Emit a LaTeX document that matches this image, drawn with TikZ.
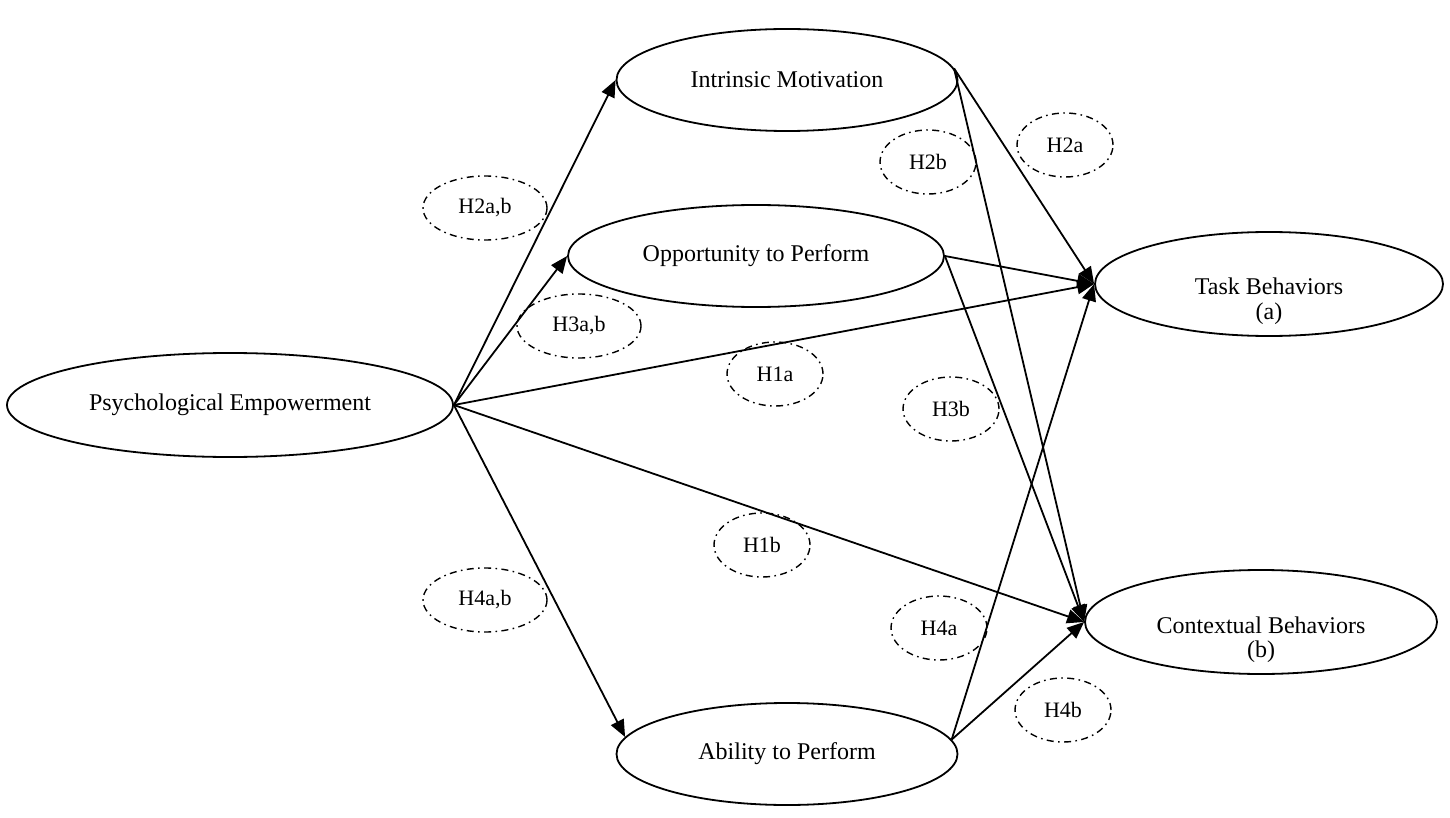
\documentclass[tikz,border=0pt]{standalone}
\usepackage{fontspec}
\setmainfont{Liberation Serif}
\usetikzlibrary{shapes.geometric,arrows.meta}

\begin{document}
\begin{tikzpicture}[x=0.5pt,y=-0.5pt,
  construct/.style={draw, ellipse, line width=0.9pt, inner sep=0pt,
    font=\fontsize{12}{13}\selectfont},
  hyp/.style={draw, ellipse, line width=0.7pt, inner sep=0pt,
    dash pattern=on 3.5pt off 2.2pt on 0.8pt off 2.2pt,
    minimum height=32pt, font=\fontsize{11}{12}\selectfont},
  link/.style={line width=0.9pt, -{Triangle[length=8.5pt,width=7pt]}}
]
\useasboundingbox (0,0) rectangle (1450,818);

% constructs
\node[construct, minimum width=223pt, minimum height=52pt] (pe) at (230,405) {Psychological Empowerment};
\node[construct, minimum width=170.5pt, minimum height=51pt] (im) at (787,80) {Intrinsic Motivation};
\node[construct, minimum width=188pt, minimum height=51pt] (op) at (756,256) {Opportunity to Perform};
\node[construct, minimum width=170.5pt, minimum height=51pt] (ap) at (787,754) {Ability to Perform};
\node[construct, minimum width=174pt, minimum height=52pt] (tb) at (1269,284)
  {\raisebox{-5.5pt}[0pt][0pt]{\begin{tabular}[t]{@{}c@{}}Task Behaviors\\[-1pt](a)\end{tabular}}};
\node[construct, minimum width=176pt, minimum height=52pt] (cb) at (1261,622)
  {\raisebox{-5.5pt}[0pt][0pt]{\begin{tabular}[t]{@{}c@{}}Contextual Behaviors\\[-1pt](b)\end{tabular}}};

% hypotheses
\node[hyp, minimum width=62pt] (h2ab) at (485,208) {H2a,b};
\node[hyp, minimum width=62pt] (h3ab) at (579,326) {H3a,b};
\node[hyp, minimum width=48pt] (h1a) at (775,374) {H1a};
\node[hyp, minimum width=48pt] (h3b) at (951,409) {H3b};
\node[hyp, minimum width=48pt] (h2b) at (928,162) {H2b};
\node[hyp, minimum width=48pt] (h2a) at (1065,145) {H2a};
\node[hyp, minimum width=48pt] (h1b) at (762,545) {H1b};
\node[hyp, minimum width=62pt] (h4ab) at (485,600) {H4a,b};
\node[hyp, minimum width=48pt] (h4a) at (939,628) {H4a};
\node[hyp, minimum width=48pt] (h4b) at (1063,710) {H4b};

% paths
\draw[link] (pe.east) -- (im.west);
\draw[link] (pe.east) -- (op.west);
\draw[link] (pe.east) -- (tb.west);
\draw[link] (pe.east) -- (cb.west);
\draw[link] (pe.east) -- (ap.174);
\draw[link] (im.4) -- (tb.west);
\draw[link] (im.4) -- (cb.west);
\draw[link] (op.east) -- (tb.west);
\draw[link] (op.east) -- (cb.west);
\draw[link] (ap.5) -- (tb.west);
\draw[link] (ap.5) -- (cb.west);
\end{tikzpicture}
\end{document}
